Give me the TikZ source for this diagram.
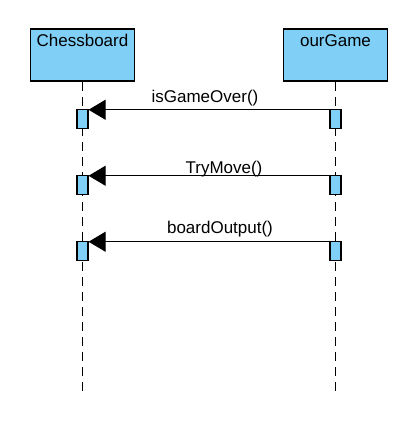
\documentclass[tikz,border=0pt]{standalone}
\usepackage{fontspec}
\setmainfont{Liberation Sans}
\usepackage{xcolor}
\usetikzlibrary{
arrows.meta,
positioning,
calc
}
\definecolor{UMLblue}{HTML}{7FCFF6}

\begin{document}
\begin{tikzpicture}[
    x=1pt,
    y=-1pt,
    font=\fontsize{17}{20}\selectfont,
    objbox/.style={
        draw=black,
        fill=UMLblue,
        line width=1.5pt,
        minimum width=104pt,
        minimum height=52pt,
        inner sep=0pt
    },
    actbox/.style={
        draw=black,
        fill=UMLblue,
        line width=1.2pt,
        minimum width=11pt,
        minimum height=19pt,
        inner sep=0pt,
        anchor=north
    },
    lifeline/.style={
        line width=1.3pt,
        dash pattern=on 9pt off 6pt
    },
    msg/.style={
        line width=1pt,
        -{Triangle[length=17pt,width=20pt]}
    }
]

% Canvas
\useasboundingbox (0,0) rectangle (410,426);

% Objects
\node[objbox] (cb) at (82.5,55) {};
\node[objbox] (ga) at (335.5,55) {};

\node[inner sep=3pt, below=3pt of cb.north] (cbname) {Chessboard};
\node[inner sep=3pt, below=3pt of ga.north] (ganame) {ourGame};

% Lifelines
\coordinate (cbend) at (82.5,393);
\coordinate (gaend) at (335.5,393);

\draw[lifeline] (cb.south) -- (cbend);
\draw[lifeline] (ga.south) -- (gaend);

% Messages
\foreach \i/\dy/\lx/\ly/\txt in {
1/27/205/102.5/isGameOver(),
2/93/224/173.5/TryMove(),
3/159/220/233/boardOutput()
}{
    \node[actbox] (cbact\i) at ($(cb.south)+(0,\dy)$) {};
    \node[actbox] (gaact\i) at ($(ga.south)+(0,\dy)$) {};

    \draw[msg]
    ([yshift=-1pt]gaact\i.north west) -- ([yshift=-1pt]cbact\i.north east);

    \node[anchor=base, inner sep=0pt]
    (lbl\i) at (\lx,\ly)
    {\txt};
}

\end{tikzpicture}
\end{document}
